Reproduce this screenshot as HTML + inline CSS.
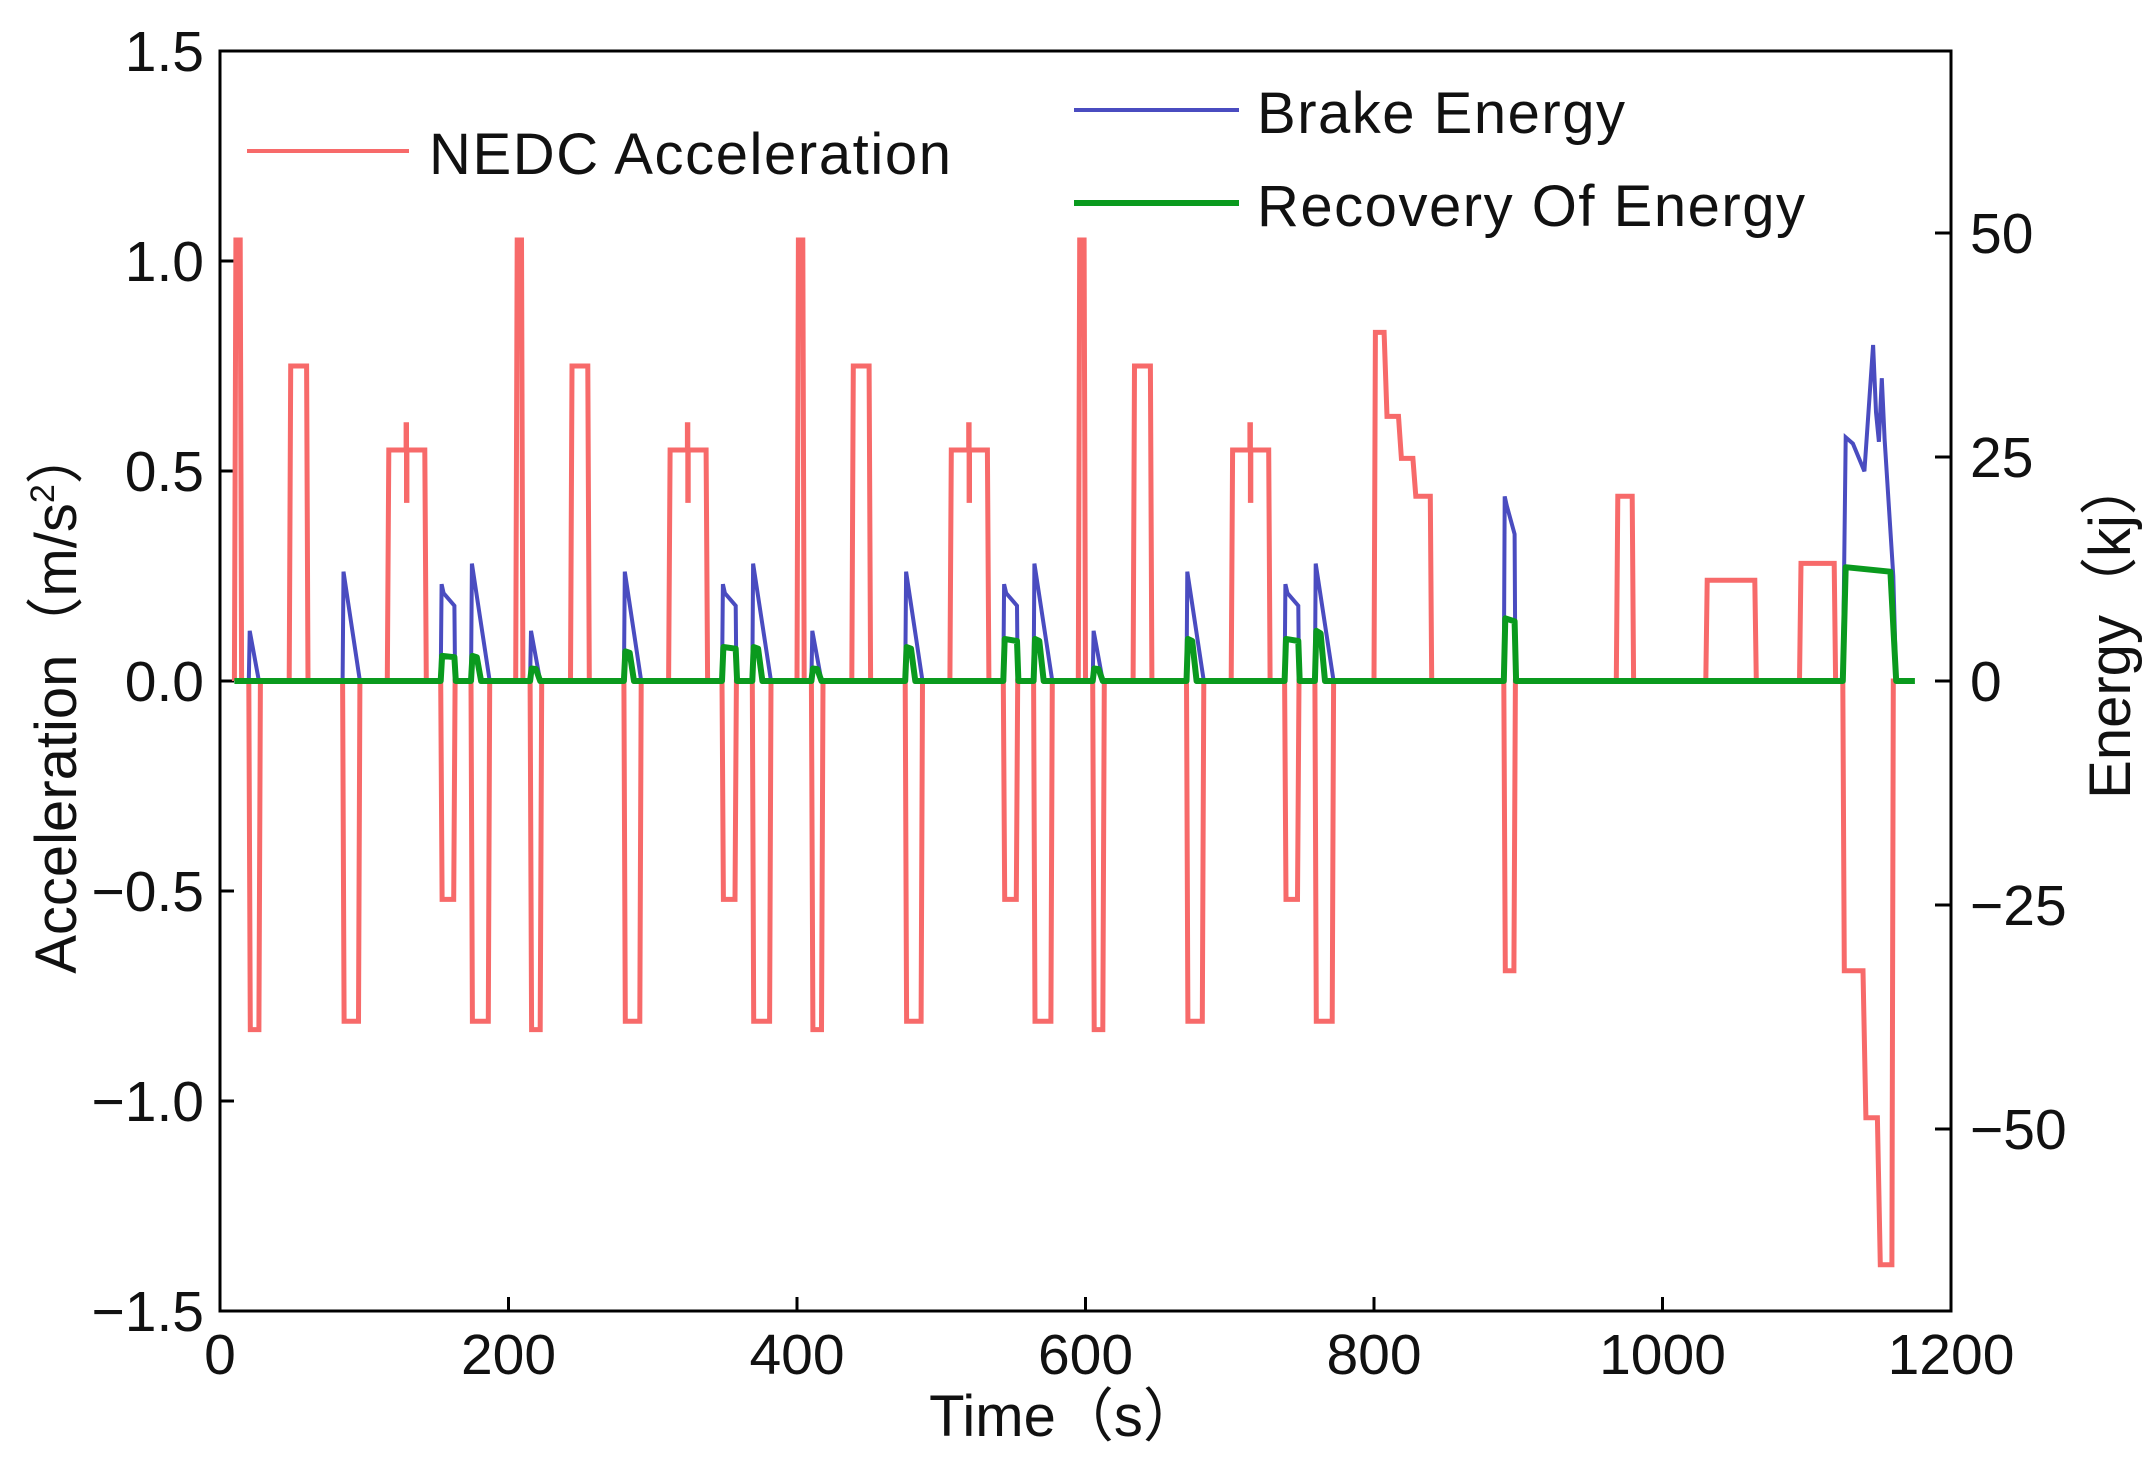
<!DOCTYPE html>
<html><head><meta charset="utf-8"><style>
html,body{margin:0;padding:0;background:#fff}
svg{display:block}
text{font-family:"Liberation Sans","Noto Sans CJK SC",sans-serif;fill:#111}
</style></head><body>
<svg id="chart" width="2154" height="1463" viewBox="0 0 2154 1463">
<g id="axes"></g>
<g id="series"></g>
<g id="legend">
 <line x1="247" y1="151" x2="409" y2="151" stroke="#f76a6a" stroke-width="4"/>
 <text x="429" y="174" font-size="58" textLength="522">NEDC Acceleration</text>
 <line x1="1074" y1="110" x2="1239" y2="110" stroke="#4a4cc0" stroke-width="4"/>
 <text x="1257" y="133" font-size="58" textLength="368">Brake Energy</text>
 <line x1="1074" y1="203" x2="1239" y2="203" stroke="#0a9a1e" stroke-width="6"/>
 <text x="1257" y="226" font-size="58" textLength="548">Recovery Of Energy</text>
</g>
<text x="1065" y="1436" font-size="58" text-anchor="middle">Time（s）</text>
<text transform="translate(76,700) rotate(-90)" font-size="58" text-anchor="middle">Acceleration（m/s<tspan font-size="34" dy="-22">2</tspan><tspan dy="22">）</tspan></text>
<text transform="translate(2130,628) rotate(-90)" font-size="58" text-anchor="middle">Energy（kj）</text>
</svg>
<script>
// ---- data ----
const xTicks = [0,200,400,600,800,1000,1200];
const yTicksLeft = [-1.5,-1.0,-0.5,0.0,0.5,1.0,1.5];
const yTickLabelsLeft = ["\u22121.5","\u22121.0","\u22120.5","0.0","0.5","1.0","1.5"];
const yTicksRight = [-50,-25,0,25,50];
const yTickLabelsRight = ["\u221250","\u221225","0","25","50"];
// ECE urban cycle segments (start s, end s, acceleration m/s2), repeated at these offsets
const eceOffsets = [0,195,390,585];
const eceStart = [10,20,48,85,116,153,174];
const eceEnd   = [15,28,61,97,143,163,187];
const eceAcc   = [1.05,-0.83,0.75,-0.81,0.55,-0.52,-0.81];
// gear-change spike within the 0.55 segment (time in cycle, high, low)
const spikeT = 129;
const spikeHi = 0.61;
const spikeLo = 0.43;
// extra-urban segments
const eudcStart = [800,808,818,828,890,968,1030,1095,1125,1140,1150];
const eudcEnd   = [808,818,828,840,898,980,1065,1120,1140,1150,1160];
const eudcAcc   = [0.83,0.63,0.53,0.44,-0.69,0.44,0.24,0.28,-0.69,-1.04,-1.39];
// brake energy events (kJ)
const brakeStart = [20,85,153,174, 215,280,348,369, 410,475,543,564, 605,670,738,759, 890];
const brakeEnd   = [27,97,163,187, 222,292,358,382, 417,487,553,577, 612,682,748,772, 898];
const brakePeak  = [5.6,12.2,10.8,13.1, 5.6,12.2,10.8,13.1, 5.6,12.2,10.8,13.1, 5.6,12.2,10.8,13.1, 20.6];
const brakeTail  = [0,0,8.4,0, 0,0,8.4,0, 0,0,8.4,0, 0,0,8.4,0, 16.4];
const recovery   = [0,0,2.8,2.8, 1.4,3.3,3.8,3.8, 1.4,3.8,4.7,4.7, 1.4,4.7,4.7,5.6, 7.0];
// final high-speed braking (time s, kJ)
const finalBrakeT = [1125,1127,1132,1140,1146,1148,1150,1152,1154,1160,1162];
const finalBrakeE = [0,27.2,26.5,23.4,37.5,30,26.7,33.8,27,11.7,0];
const finalRecT = [1125,1127,1158,1162];
const finalRecE = [0,12.7,12.2,0];

// ---- scales ----
const X0=220,X1=1951,Y0=681,YS=420;
const KJ=448/50;
const xs=t=>X0+(t/1200)*(X1-X0);
const ya=a=>Y0-a*YS;
const ye=e=>Y0-e*KJ;
const NS="http://www.w3.org/2000/svg";
const axes=document.getElementById('axes'), series=document.getElementById('series');
function mk(tag,attrs,parent){const el=document.createElementNS(NS,tag);for(const k in attrs)el.setAttribute(k,attrs[k]);parent.appendChild(el);return el;}

const frame=mk('rect',{x:X0,y:ya(1.5),width:X1-X0,height:ya(-1.5)-ya(1.5),fill:'none',stroke:'#000','stroke-width':3},axes);


xTicks.forEach((t,i)=>{
 const l=mk('line',{x1:xs(t),x2:xs(t),y1:ya(-1.5),y2:ya(-1.5)-14,stroke:'#000','stroke-width':3},axes);
 
 
 const tx=mk('text',{x:xs(t),y:1374,'font-size':57,'text-anchor':'middle'},axes);tx.textContent=String(t);
 
 
});
yTicksLeft.forEach((v,i)=>{
 const l=mk('line',{x1:X0,x2:X0+14,y1:ya(v),y2:ya(v),stroke:'#000','stroke-width':3},axes);
 
 
 const tx=mk('text',{x:204,y:ya(v)+20,'font-size':57,'text-anchor':'end'},axes);tx.textContent=yTickLabelsLeft[i];
 
 
});
yTicksRight.forEach((v,i)=>{
 const l=mk('line',{x1:X1-16,x2:X1,y1:ye(v),y2:ye(v),stroke:'#000','stroke-width':3},axes);
 
 
 const tx=mk('text',{x:1970,y:ye(v)+20,'font-size':57,'text-anchor':'start'},axes);tx.textContent=yTickLabelsRight[i];
 
 
});

// acceleration polyline
const segs=[];
eceOffsets.forEach(o=>eceStart.forEach((s,i)=>segs.push([s+o,eceEnd[i]+o,eceAcc[i],eceAcc[i]===0.55?spikeT+o:null])));
eudcStart.forEach((s,i)=>segs.push([s,eudcEnd[i],eudcAcc[i],null]));
segs.sort((a,b)=>a[0]-b[0]);
let pts=[[10,0]];
segs.forEach(([s,e,a,sp],i)=>{
 const prev=segs[i-1], next=segs[i+1];
 if(!(prev&&prev[1]===s)) pts.push([s,0]);
 pts.push([s+1,a]);
 if(sp!==null){pts.push([sp,a],[sp,spikeHi],[sp+0.3,spikeHi],[sp+0.3,spikeLo],[sp+0.6,spikeLo],[sp+0.6,a]);}
 pts.push([e-1,a]);
 if(!(next&&next[0]===e)) pts.push([e,0]);
});
pts.push([1170,0]);
const acc=mk('polyline',{points:pts.map(p=>xs(p[0]).toFixed(1)+','+ya(p[1]).toFixed(1)).join(' '),fill:'none',stroke:'#f76a6a','stroke-width':5,'stroke-linejoin':'miter'},series);



// brake energy line
let bp=[[10,0]];
brakeStart.forEach((s,i)=>{
 const e=brakeEnd[i];
 bp.push([s,0],[s+0.6,brakePeak[i]]);
 if(brakeTail[i]>0){bp.push([s+2,brakePeak[i]-1],[e-0.5,brakeTail[i]],[e,0]);}
 else bp.push([e,0]);
});
finalBrakeT.forEach((t,i)=>bp.push([t,finalBrakeE[i]]));
bp.push([1170,0]);
const br=mk('polyline',{points:bp.map(p=>xs(p[0]).toFixed(1)+','+ye(p[1]).toFixed(1)).join(' '),fill:'none',stroke:'#4a4cc0','stroke-width':4},series);



// recovery line
let rp=[[10,0]];
brakeStart.forEach((s,i)=>{
 const e=brakeEnd[i], r=recovery[i];
 if(r<=0) return;
 const tail=brakeTail[i]>0;
 rp.push([s,0],[s+1,r],[tail?e-0.5:s+4,r*0.95],[tail?e+0.5:s+7,0]);
});
finalRecT.forEach((t,i)=>rp.push([t,finalRecE[i]]));
rp.push([1175,0]);
const rc=mk('polyline',{points:rp.map(p=>xs(p[0]).toFixed(1)+','+ye(p[1]).toFixed(1)).join(' '),fill:'none',stroke:'#0a9a1e','stroke-width':6,'stroke-linejoin':'round'},series);


</script>
</body></html>
